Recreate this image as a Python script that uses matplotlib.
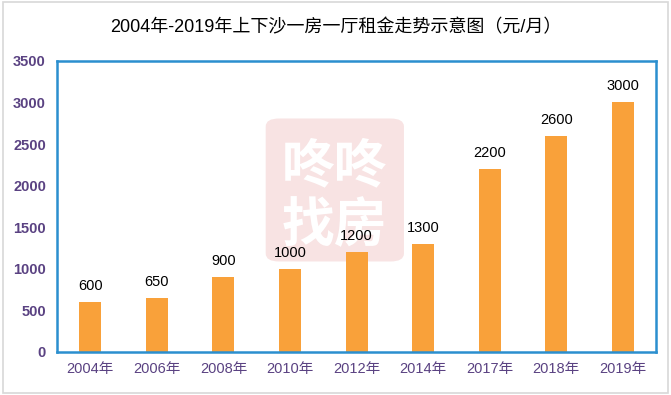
import matplotlib.pyplot as plt
from matplotlib.patches import FancyBboxPatch, Rectangle

plt.rcParams['font.family'] = ['Liberation Sans', 'Noto Sans CJK SC', 'DejaVu Sans']

years = ["2004年", "2006年", "2008年", "2010年", "2012年", "2014年", "2017年", "2018年", "2019年"]
rent = [600, 650, 900, 1000, 1200, 1300, 2200, 2600, 3000]
yticks = [0, 500, 1000, 1500, 2000, 2500, 3000, 3500]

purple = "#5a4282"
blue = "#2b8fcf"
orange = "#f9a13a"

fig = plt.figure(figsize=(6.71, 3.95), dpi=100)
fig.patches.append(Rectangle((0.004, 0.006), 0.992, 0.988, transform=fig.transFigure,
                             fill=False, edgecolor="#d8d8d8", linewidth=1.2))

ax = fig.add_axes([0.085, 0.109, 0.893, 0.737])

# watermark, behind the bars
ax.add_patch(FancyBboxPatch((0.396, 0.338), 0.206, 0.362, transform=fig.transFigure,
                            boxstyle="round,pad=0,rounding_size=0.02",
                            facecolor="#f8e3e3", edgecolor="none", zorder=1))
for txt, yy in [("咚咚", 0.575), ("找房", 0.425)]:
    ax.text(0.499, yy, txt, transform=fig.transFigure, ha="center", va="center",
            fontsize=38, fontweight="bold", color="white", zorder=2)

x = range(len(years))
ax.bar(x, rent, width=0.33, color=orange, zorder=3)
for i, v in zip(x, rent):
    ax.text(i, v + 110, str(v), ha="center", va="bottom", fontsize=10.5, color="black", zorder=4)

ax.set_xlim(-0.5, len(years) - 0.5)
ax.set_ylim(0, 3500)
ax.set_yticks(yticks)
ax.set_xticks(list(x))
ax.set_xticklabels(years)
ax.tick_params(length=0, labelcolor=purple, labelsize=10.5)
ax.tick_params(axis="x", pad=7)
ax.tick_params(axis="y", pad=8)
for lab in ax.get_yticklabels():
    lab.set_fontweight("bold")
for s in ax.spines.values():
    s.set_color(blue)
    s.set_linewidth(1.8)
    s.set_zorder(5)

fig.text(0.5, 0.93, "2004年-2019年上下沙一房一厅租金走势示意图（元/月）",
         ha="center", va="center", fontsize=13, color="black")

fig.savefig("out.png", dpi=100)
